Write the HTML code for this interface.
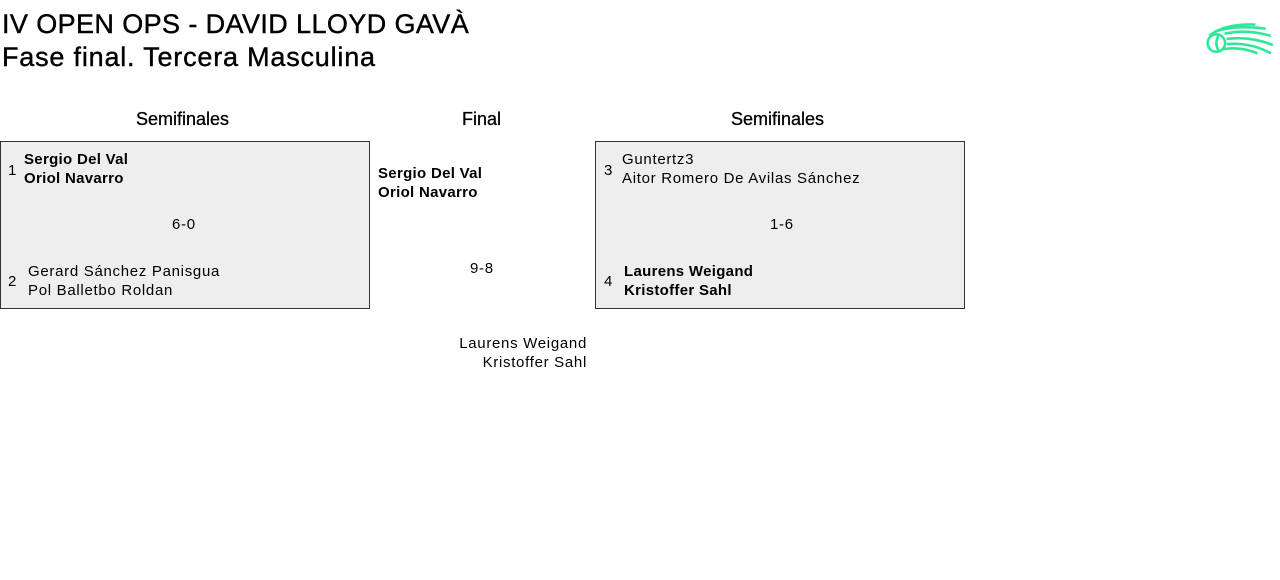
<!DOCTYPE html>
<html><head><meta charset="utf-8"><style>
body{margin:0;width:1280px;height:580px;background:#fff;font-family:"Liberation Sans",sans-serif;color:#000;position:relative;overflow:hidden}
.a{position:absolute;white-space:nowrap}
.t{font-size:27px;line-height:30px;letter-spacing:0.4px;-webkit-text-stroke:0.4px #000}
.h{font-size:18px;-webkit-text-stroke:0.3px #000}
.s{font-size:15px;line-height:19px;letter-spacing:0.7px}
.b{font-weight:bold;letter-spacing:0.3px}
.box{position:absolute;top:141px;width:368px;height:166px;border:1px solid #333;background:#eee}
</style></head><body>
<div class="a t" style="left:2px;top:9px">IV OPEN OPS - DAVID LLOYD GAVÀ</div>
<div class="a t" style="left:2px;top:42px;letter-spacing:0.8px">Fase final. Tercera Masculina</div>
<svg class="a" style="left:1204px;top:20px" width="72" height="42" viewBox="0 0 70 40">
<g fill="none" stroke="#2ee89a" stroke-width="2.5">
<circle cx="12" cy="22" r="8.5"/>
<path d="M5 15 Q20 3 50 4"/><path d="M10 11 Q30 4 60 8"/><path d="M20 13 Q40 8 65 15"/><path d="M22 18 Q45 15 67 24"/><path d="M22 23 Q45 21 65 32"/><path d="M18 28 Q35 25 52 32"/>
<path d="M14 15 Q10 22 14 29"/></g></svg>
<div class="a h" style="left:136px;top:109px">Semifinales</div>
<div class="a h" style="left:462px;top:109px">Final</div>
<div class="a h" style="left:731px;top:109px">Semifinales</div>
<div class="box" style="left:0"></div>
<div class="box" style="left:595px"></div>
<div class="a s" style="left:8px;top:161px">1</div>
<div class="a s b" style="left:24px;top:150px">Sergio Del Val<br>Oriol Navarro</div>
<div class="a s" style="left:172px;top:215px">6-0</div>
<div class="a s" style="left:8px;top:272px">2</div>
<div class="a s" style="left:28px;top:262px">Gerard Sánchez Panisgua<br>Pol Balletbo Roldan</div>
<div class="a s b" style="left:378px;top:164px">Sergio Del Val<br>Oriol Navarro</div>
<div class="a s" style="left:470px;top:259px">9-8</div>
<div class="a s" style="right:693px;top:334px;text-align:right">Laurens Weigand<br>Kristoffer Sahl</div>
<div class="a s" style="left:604px;top:161px">3</div>
<div class="a s" style="left:622px;top:150px">Guntertz3<br>Aitor Romero De Avilas Sánchez</div>
<div class="a s" style="left:770px;top:215px">1-6</div>
<div class="a s" style="left:604px;top:272px">4</div>
<div class="a s b" style="left:624px;top:262px">Laurens Weigand<br>Kristoffer Sahl</div>
</body></html>
